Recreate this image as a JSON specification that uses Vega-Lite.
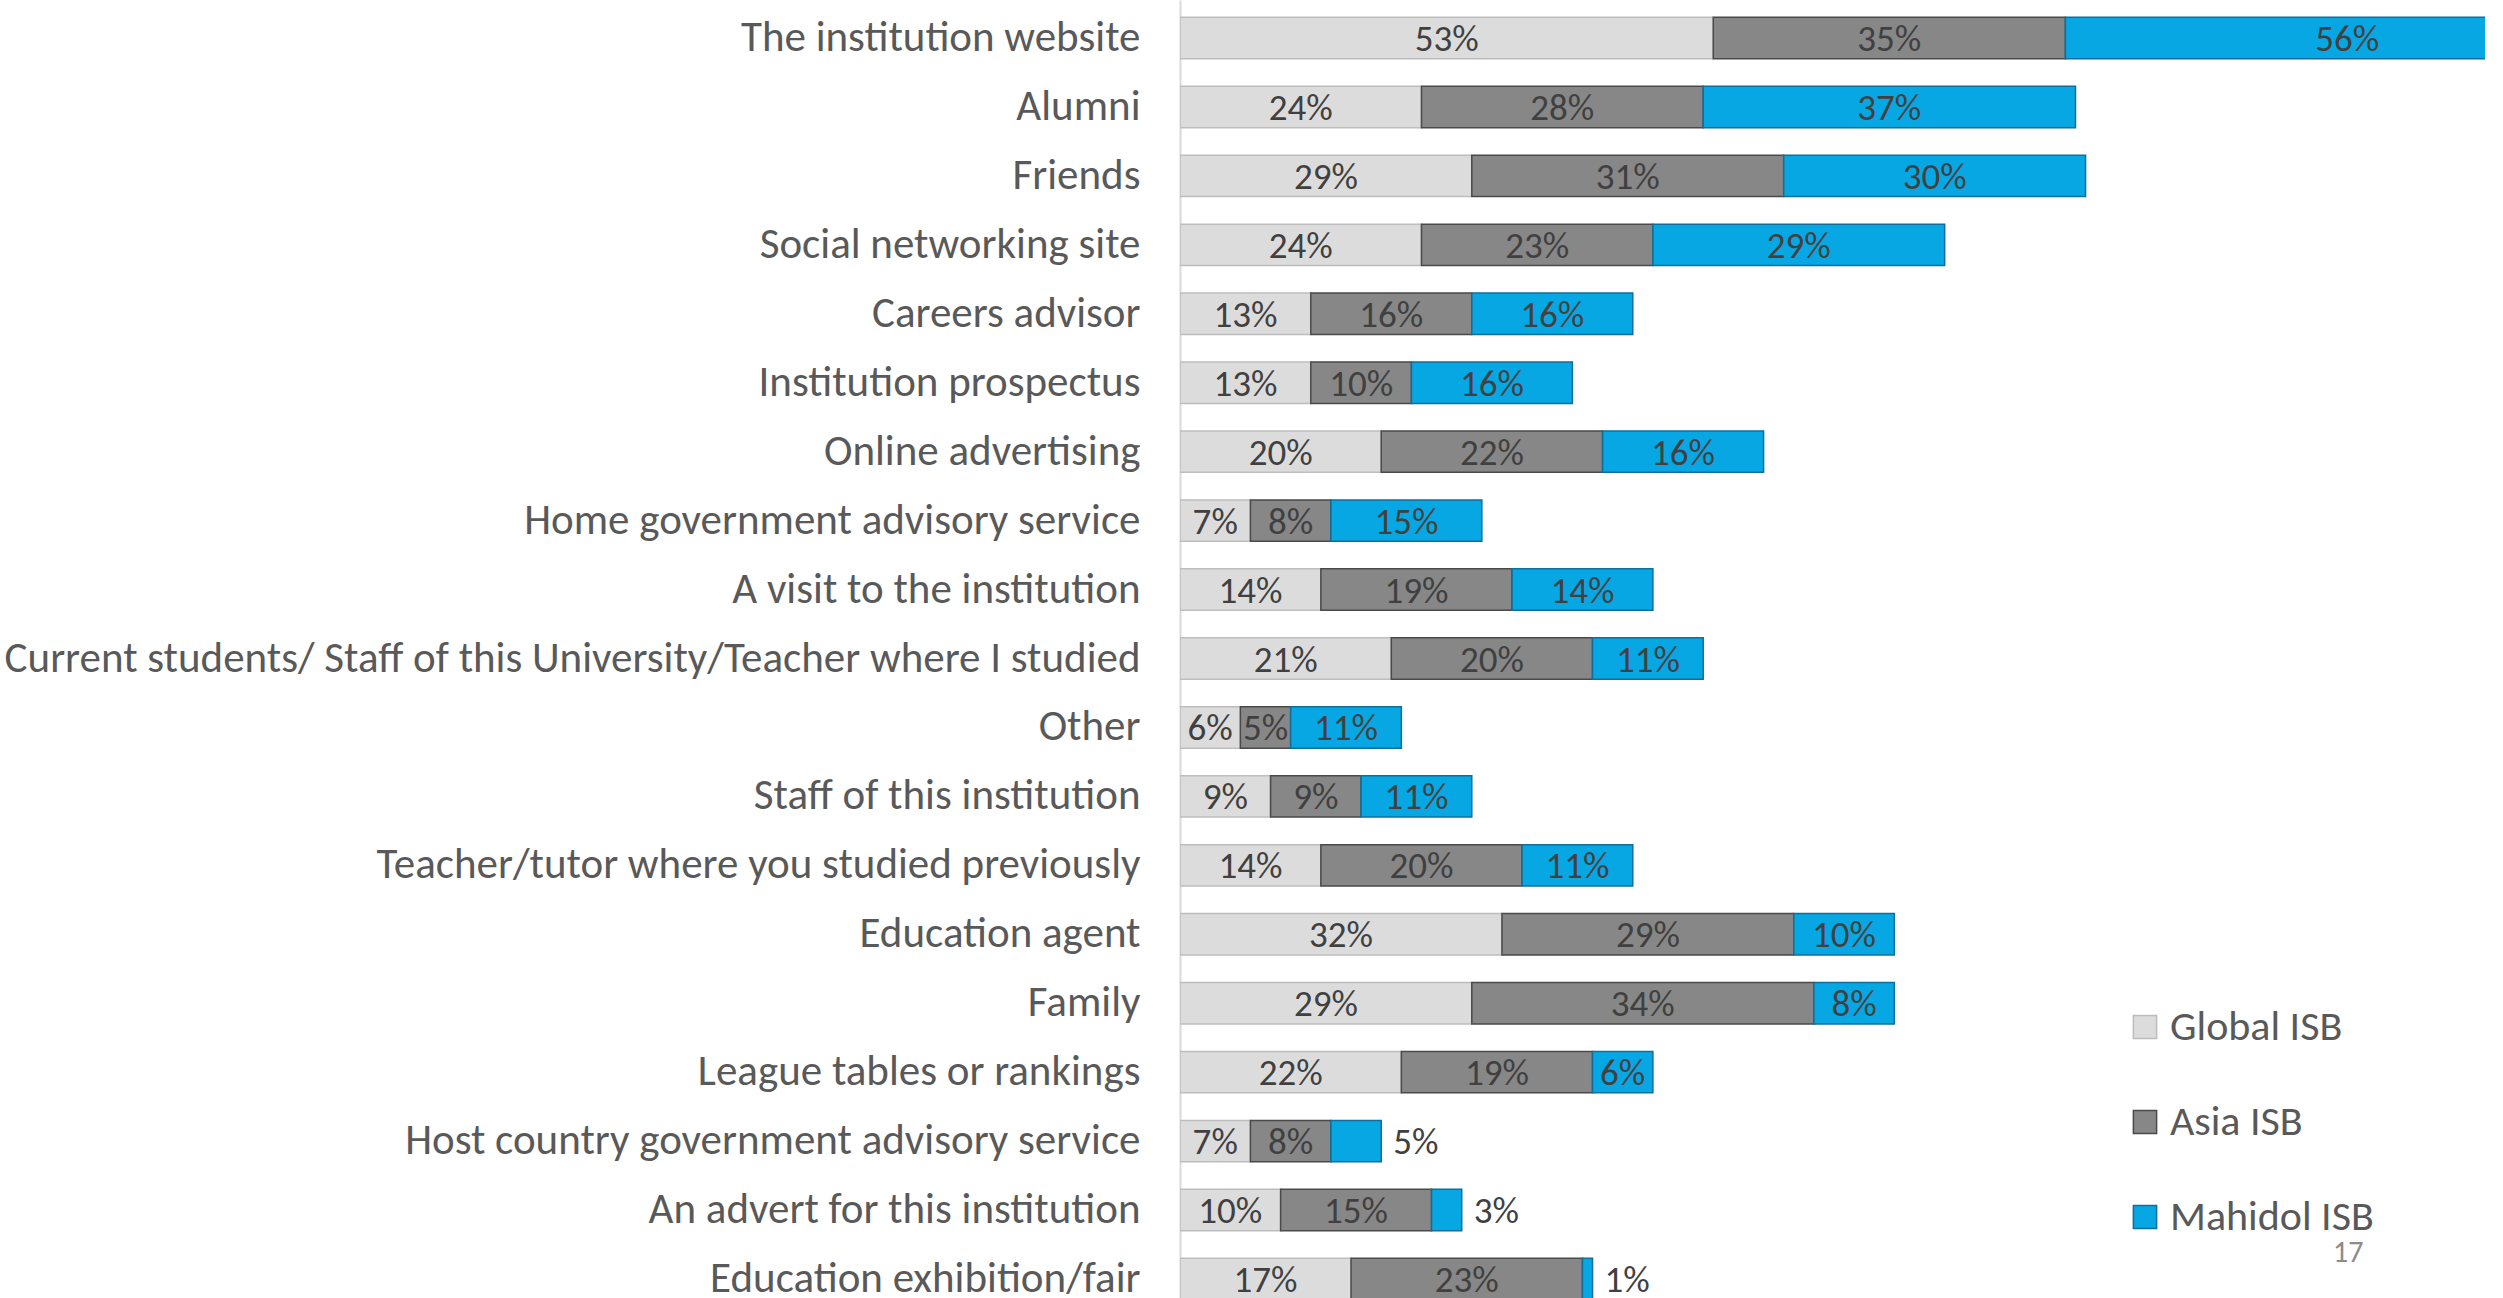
{
  "$schema": "https://vega.github.io/schema/vega-lite/v6.json",
  "autosize": {"type": "none"},
  "padding": {"left": 1180, "top": 0, "right": 18, "bottom": 0},
  "width": 1305,
  "height": 1298,
  "background": "white",
  "config": {"view": {"stroke": null}, "font": "Carlito, Lato"},
  "data": {"values": [
    {"source": "The institution website", "group": "Global ISB", "k": 1, "value": 0.53},
    {"source": "The institution website", "group": "Asia ISB", "k": 2, "value": 0.35},
    {"source": "The institution website", "group": "Mahidol ISB", "k": 3, "value": 0.56},
    {"source": "Alumni", "group": "Global ISB", "k": 1, "value": 0.24},
    {"source": "Alumni", "group": "Asia ISB", "k": 2, "value": 0.28},
    {"source": "Alumni", "group": "Mahidol ISB", "k": 3, "value": 0.37},
    {"source": "Friends", "group": "Global ISB", "k": 1, "value": 0.29},
    {"source": "Friends", "group": "Asia ISB", "k": 2, "value": 0.31},
    {"source": "Friends", "group": "Mahidol ISB", "k": 3, "value": 0.30},
    {"source": "Social networking site", "group": "Global ISB", "k": 1, "value": 0.24},
    {"source": "Social networking site", "group": "Asia ISB", "k": 2, "value": 0.23},
    {"source": "Social networking site", "group": "Mahidol ISB", "k": 3, "value": 0.29},
    {"source": "Careers advisor", "group": "Global ISB", "k": 1, "value": 0.13},
    {"source": "Careers advisor", "group": "Asia ISB", "k": 2, "value": 0.16},
    {"source": "Careers advisor", "group": "Mahidol ISB", "k": 3, "value": 0.16},
    {"source": "Institution prospectus", "group": "Global ISB", "k": 1, "value": 0.13},
    {"source": "Institution prospectus", "group": "Asia ISB", "k": 2, "value": 0.10},
    {"source": "Institution prospectus", "group": "Mahidol ISB", "k": 3, "value": 0.16},
    {"source": "Online advertising", "group": "Global ISB", "k": 1, "value": 0.20},
    {"source": "Online advertising", "group": "Asia ISB", "k": 2, "value": 0.22},
    {"source": "Online advertising", "group": "Mahidol ISB", "k": 3, "value": 0.16},
    {"source": "Home government advisory service", "group": "Global ISB", "k": 1, "value": 0.07},
    {"source": "Home government advisory service", "group": "Asia ISB", "k": 2, "value": 0.08},
    {"source": "Home government advisory service", "group": "Mahidol ISB", "k": 3, "value": 0.15},
    {"source": "A visit to the institution", "group": "Global ISB", "k": 1, "value": 0.14},
    {"source": "A visit to the institution", "group": "Asia ISB", "k": 2, "value": 0.19},
    {"source": "A visit to the institution", "group": "Mahidol ISB", "k": 3, "value": 0.14},
    {"source": "Current students/ Staff of this University/Teacher where I studied", "group": "Global ISB", "k": 1, "value": 0.21},
    {"source": "Current students/ Staff of this University/Teacher where I studied", "group": "Asia ISB", "k": 2, "value": 0.20},
    {"source": "Current students/ Staff of this University/Teacher where I studied", "group": "Mahidol ISB", "k": 3, "value": 0.11},
    {"source": "Other", "group": "Global ISB", "k": 1, "value": 0.06},
    {"source": "Other", "group": "Asia ISB", "k": 2, "value": 0.05},
    {"source": "Other", "group": "Mahidol ISB", "k": 3, "value": 0.11},
    {"source": "Staff of this institution", "group": "Global ISB", "k": 1, "value": 0.09},
    {"source": "Staff of this institution", "group": "Asia ISB", "k": 2, "value": 0.09},
    {"source": "Staff of this institution", "group": "Mahidol ISB", "k": 3, "value": 0.11},
    {"source": "Teacher/tutor where you studied previously", "group": "Global ISB", "k": 1, "value": 0.14},
    {"source": "Teacher/tutor where you studied previously", "group": "Asia ISB", "k": 2, "value": 0.20},
    {"source": "Teacher/tutor where you studied previously", "group": "Mahidol ISB", "k": 3, "value": 0.11},
    {"source": "Education agent", "group": "Global ISB", "k": 1, "value": 0.32},
    {"source": "Education agent", "group": "Asia ISB", "k": 2, "value": 0.29},
    {"source": "Education agent", "group": "Mahidol ISB", "k": 3, "value": 0.10},
    {"source": "Family", "group": "Global ISB", "k": 1, "value": 0.29},
    {"source": "Family", "group": "Asia ISB", "k": 2, "value": 0.34},
    {"source": "Family", "group": "Mahidol ISB", "k": 3, "value": 0.08},
    {"source": "League tables or rankings", "group": "Global ISB", "k": 1, "value": 0.22},
    {"source": "League tables or rankings", "group": "Asia ISB", "k": 2, "value": 0.19},
    {"source": "League tables or rankings", "group": "Mahidol ISB", "k": 3, "value": 0.06},
    {"source": "Host country government advisory service", "group": "Global ISB", "k": 1, "value": 0.07},
    {"source": "Host country government advisory service", "group": "Asia ISB", "k": 2, "value": 0.08},
    {"source": "Host country government advisory service", "group": "Mahidol ISB", "k": 3, "value": 0.05},
    {"source": "An advert for this institution", "group": "Global ISB", "k": 1, "value": 0.10},
    {"source": "An advert for this institution", "group": "Asia ISB", "k": 2, "value": 0.15},
    {"source": "An advert for this institution", "group": "Mahidol ISB", "k": 3, "value": 0.03},
    {"source": "Education exhibition/fair", "group": "Global ISB", "k": 1, "value": 0.17},
    {"source": "Education exhibition/fair", "group": "Asia ISB", "k": 2, "value": 0.23},
    {"source": "Education exhibition/fair", "group": "Mahidol ISB", "k": 3, "value": 0.01}
  ]},
  "encoding": {
    "y": {
      "field": "source", "type": "nominal", "sort": null,
      "scale": {"range": [0, 1317], "paddingInner": 0.4, "paddingOuter": 0.2512},
      "axis": {"title": null, "ticks": false, "labelFontSize": 43, "labelColor": "#595959", "labelPadding": 40, "labelFont": "Carlito, Lato", "domainColor": "#d9d9d9", "domainWidth": 2, "labelLimit": 1300}
    }
  },
  "layer": [
    {
      "mark": {"type": "bar", "clip": true, "strokeWidth": 1.5},
      "encoding": {
        "x": {"field": "value", "type": "quantitative", "stack": "zero", "scale": {"domain": [0, 1.297], "nice": false}, "axis": null},
        "order": {"field": "k", "type": "quantitative"},
        "color": {
          "field": "group", "type": "nominal",
          "scale": {"domain": ["Global ISB", "Asia ISB", "Mahidol ISB"], "range": ["#dddcdd", "#878787", "#06a7e3"]},
          "legend": {"title": null, "orient": "none", "legendX": 944, "legendY": 1006, "symbolType": "square", "symbolSize": 540, "symbolStrokeColor": "#595959", "symbolStrokeWidth": 1.5, "labelFontSize": 42, "labelColor": "#595959", "labelFont": "Carlito, Lato", "labelOffset": 4, "rowPadding": 53, "labelLimit": 400}
        },
        "stroke": {
          "field": "group", "type": "nominal",
          "scale": {"domain": ["Global ISB", "Asia ISB", "Mahidol ISB"], "range": ["#bdbdbd", "#4a4a4a", "#0f6f9a"]},
          "legend": null
        }
      }
    },
    {
      "mark": {"type": "text", "fontSize": 37, "color": "#404040", "align": "center", "baseline": "middle", "dy": 2, "font": "Carlito, Lato"},
      "encoding": {
        "x": {"field": "value", "type": "quantitative", "stack": "zero", "bandPosition": 0.5},
        "order": {"field": "k", "type": "quantitative"},
        "detail": {"field": "group"},
        "text": {"condition": {"test": "datum.group === 'Mahidol ISB' && datum.value < 0.055", "value": ""}, "field": "value", "type": "quantitative", "format": ".0%"}
      }
    },
    {
      "mark": {"type": "text", "fontSize": 37, "color": "#404040", "align": "left", "baseline": "middle", "dx": 12, "dy": 2, "font": "Carlito, Lato"},
      "encoding": {
        "x": {"field": "value", "type": "quantitative", "stack": "zero"},
        "order": {"field": "k", "type": "quantitative"},
        "detail": {"field": "group"},
        "text": {"condition": {"test": "datum.group === 'Mahidol ISB' && datum.value < 0.055", "field": "value", "type": "quantitative", "format": ".0%"}, "value": ""}
      }
    },
    {
      "data": {"values": [{"page": "17"}]},
      "mark": {"type": "text", "fontSize": 30, "color": "#8c8c8c", "align": "center", "baseline": "middle", "dy": -26, "font": "Carlito, Lato"},
      "encoding": {
        "x": {"datum": 1.161},
        "y": {"datum": "Education exhibition/fair"},
        "text": {"field": "page"}
      }
    }
  ]
}
